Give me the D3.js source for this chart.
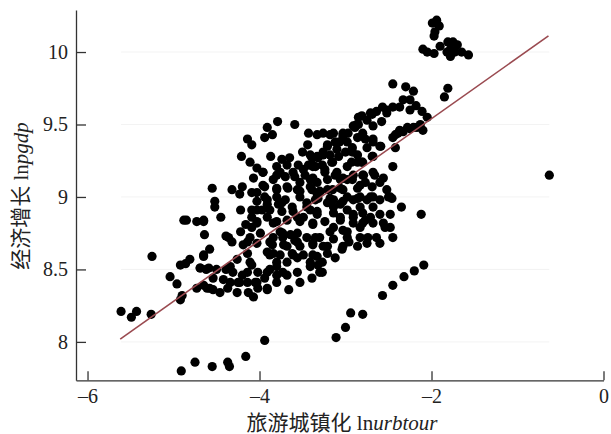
<!DOCTYPE html>
<html>
<head>
<meta charset="utf-8">
<script src="https://cdn.jsdelivr.net/npm/d3@7"></script>
<style>
  body { margin: 0; background: #fff; }
  svg text { font-family: "Liberation Serif", "Times New Roman", "DejaVu Serif", "Noto Sans CJK SC", serif; fill: #222; }
</style>
</head>
<body>
<svg id="chart" width="611" height="434"></svg>
<script>
const xTicks = [-6, -4, -2, 0];
const yTicks = [8, 8.5, 9, 9.5, 10];
const xDomain = [-6.134, 0];
const yDomain = [7.735, 10.29];

// fitted line lnpgdp = a + b * lnurbtour
const fit = { intercept: 10.38, slope: 0.42 };
const fitRange = [-5.62, -0.64];

// [lnurbtour, lnpgdp]
const points = [
  [-5.61,8.21],[-5.49,8.17],[-5.43,8.21],[-5.26,8.19],[-5.25,8.59],[-5.04,8.45],[-4.96,8.40],[-4.92,8.29],
  [-4.90,8.32],[-4.92,8.53],[-4.86,8.54],[-4.81,8.57],[-4.88,8.84],[-4.85,8.84],[-4.73,8.83],[-4.65,8.83],
  [-4.64,8.74],[-4.65,8.60],[-4.69,8.51],[-4.73,8.37],[-4.61,8.37],[-4.91,7.80],[-4.75,7.86],[-4.55,7.83],
  [-4.37,7.86],[-4.35,7.83],[-4.16,7.90],[-3.94,8.01],[-3.11,8.03],[-3.00,8.10],[-2.94,8.20],[-2.80,8.19],
  [-2.57,8.32],[-2.45,8.39],[-2.32,8.45],[-2.20,8.49],[-2.09,8.53],[-2.35,8.93],[-2.12,8.88],[-0.63,9.15],
  [-1.99,10.20],[-1.94,10.22],[-1.91,10.18],[-1.96,10.14],[-1.97,10.11],[-2.10,10.02],[-2.05,10.00],[-1.97,9.99],
  [-1.90,10.04],[-1.81,10.07],[-1.75,10.07],[-1.70,10.05],[-1.78,10.02],[-1.82,10.00],[-1.78,9.97],[-1.73,10.00],
  [-1.65,10.00],[-1.57,9.98],
  [-2.45,9.78],[-2.30,9.76],[-2.21,9.73],[-2.33,9.67],[-2.25,9.67],[-2.18,9.63],[-2.11,9.59],[-2.05,9.55],
  [-1.81,9.75],[-1.85,9.69],
  [-2.57,9.62],[-2.64,9.59],[-2.81,9.56],[-2.75,9.53],[-2.87,9.50],[-2.45,9.62],[-2.37,9.62],[-2.25,9.60],
  [-2.52,9.58],[-2.69,9.57],[-2.85,9.50],[-2.89,9.48],[-2.97,9.44],[-3.03,9.42],[-3.07,9.38],[-3.18,9.43],
  [-3.26,9.44],[-3.33,9.43],[-3.21,9.36],[-3.12,9.38],[-2.98,9.38],[-2.86,9.41],[-2.77,9.40],[-2.68,9.38],
  [-2.60,9.35],[-2.92,9.34],[-3.00,9.31],[-3.10,9.33],[-3.18,9.29],[-3.26,9.29],[-3.32,9.27],[-3.38,9.22],
  [-3.27,9.22],[-3.15,9.24],[-2.93,9.24],[-2.86,9.29],[-2.81,9.24],[-2.69,9.28],[-3.24,9.17],[-3.12,9.15],
  [-3.03,9.13],[-2.91,9.15],[-2.77,9.10],[-2.66,9.15],[-2.60,9.10],[-3.33,9.10],[-3.30,9.04],[-3.39,9.05],
  [-3.15,9.05],[-3.03,9.05],[-2.83,9.00],[-2.71,9.00],[-2.48,9.00],[-2.42,9.43],[-2.37,9.46],[-2.28,9.48],
  [-2.21,9.48],[-2.13,9.50],[-2.45,9.41],[-2.39,9.44],[-2.33,9.45],[-2.25,9.47],[-2.17,9.48],[-2.10,9.46],
  [-2.42,9.34],[-2.59,9.35],[-2.92,9.31],[-2.68,9.28],[-2.80,9.24],[-2.80,9.15],[-2.83,9.08],[-2.92,9.12],
  [-3.06,9.12],[-2.68,9.00],[-2.50,9.00],
  [-2.52,9.60],[-2.71,9.58],[-2.85,9.55],[-2.58,9.52],[-2.68,9.49],[-2.80,9.44],[-2.91,9.49],[-3.03,9.44],
  [-3.14,9.44],[-3.10,9.37],[-3.21,9.35],[-3.26,9.31],[-3.33,9.28],[-3.41,9.29],[-3.50,9.31],[-3.08,9.28],
  [-3.16,9.24],[-3.24,9.19],[-3.38,9.21],[-3.49,9.19],[-3.61,9.17],[-3.76,9.17],[-3.10,9.17],[-2.98,9.21],
  [-2.86,9.24],[-2.79,9.15],[-2.68,9.17],[-2.56,9.13],[-2.45,9.21],[-2.52,9.05],[-2.98,9.12],[-3.21,9.12],
  [-3.41,9.12],[-3.53,9.10],[-3.68,9.07],[-3.80,9.06],[-3.21,9.05],[-3.06,9.06],[-2.86,9.06],[-2.69,9.07],
  [-2.75,9.34],[-2.68,9.40],
  [-3.79,9.52],[-3.59,9.50],[-3.91,9.48],[-3.85,9.43],[-3.94,9.41],[-4.14,9.40],[-4.09,9.36],[-3.43,9.44],
  [-3.44,9.36],[-4.21,9.28],[-3.87,9.28],[-4.11,9.24],[-4.03,9.20],[-3.96,9.17],[-3.74,9.26],[-3.65,9.27],
  [-3.39,9.27],[-3.80,9.21],[-3.68,9.22],[-3.55,9.22],[-3.43,9.22],[-3.35,9.21],[-3.80,9.15],[-3.59,9.14],
  [-3.47,9.15],[-3.38,9.13],[-4.07,9.13],[-4.55,9.06],[-4.32,9.05],[-4.20,9.07],[-4.23,9.02],[-4.09,9.03],
  [-3.94,9.07],[-3.67,9.06],[-3.53,9.04],[-3.41,9.07],[-3.33,9.02],[-3.94,9.00],[-3.96,9.08],[-3.84,9.12],
  [-3.56,9.05],
  [-4.52,8.97],[-4.52,8.93],[-4.45,8.86],[-4.65,8.84],[-4.39,8.73],[-4.36,8.72],[-4.22,8.91],[-4.09,8.91],
  [-4.22,8.76],[-4.16,8.81],[-4.09,8.79],[-4.03,8.83],[-3.91,8.86],[-3.84,8.82],[-3.80,9.00],[-3.70,8.98],
  [-3.78,8.95],[-3.74,8.90],[-3.62,8.93],[-3.53,9.00],[-3.45,8.96],[-3.56,8.86],[-3.49,8.86],[-3.41,8.91],
  [-3.35,8.98],[-3.30,9.03],[-3.21,8.96],[-3.14,8.98],[-3.06,8.95],[-2.98,9.00],[-2.91,8.98],[-2.75,8.98],
  [-2.60,8.98],[-2.46,8.99],[-3.14,8.89],[-3.06,8.86],[-2.98,8.91],[-2.91,8.88],[-2.80,8.89],[-2.71,8.86],
  [-2.60,8.88],[-2.48,8.88],[-3.14,8.79],[-3.03,8.77],[-2.91,8.82],[-2.80,8.82],[-2.68,8.82],[-2.56,8.82],
  [-2.45,8.72],[-2.64,8.72],[-2.83,8.72],[-2.98,8.72],[-3.14,8.71],[-3.30,8.72],[-3.45,8.72],[-3.56,8.75],
  [-3.73,8.72],[-3.84,8.72],[-3.99,8.75],[-4.11,8.72],[-4.19,8.67],[-4.03,8.68],[-3.68,8.66],[-3.53,8.66],
  [-3.38,8.68],[-3.21,8.66],[-3.03,8.66],[-2.86,8.66],[-2.75,8.68],[-2.60,8.68],[-2.54,8.79],[-2.48,8.79],
  [-2.77,8.84],[-2.91,8.86],[-3.06,8.84],[-3.24,8.83],[-3.38,8.82],[-3.33,8.90],[-3.18,8.76],[-2.98,8.76],
  [-2.83,8.79],[-2.74,8.72],[-2.96,8.69],[-3.38,8.67],[-3.26,8.66],[-3.04,8.64],[-3.21,8.61],[-3.33,8.59],
  [-3.12,8.58],[-3.27,8.55],[-3.27,8.48],[-3.32,8.99],[-3.18,8.99],[-3.03,8.97],[-2.86,8.99],[-3.14,8.93],
  [-2.83,8.93],[-2.68,8.93],
  [-4.58,8.64],[-4.65,8.59],[-4.69,8.51],[-4.59,8.51],[-4.50,8.50],[-4.39,8.50],[-4.31,8.48],[-4.20,8.46],
  [-4.09,8.53],[-4.02,8.48],[-4.54,8.44],[-4.42,8.43],[-4.34,8.41],[-4.25,8.41],[-4.14,8.41],[-4.05,8.41],
  [-3.94,8.44],[-3.88,8.50],[-3.80,8.52],[-4.37,8.37],[-4.26,8.34],[-4.13,8.34],[-4.02,8.37],[-3.91,8.37],
  [-4.65,8.39],[-4.54,8.36],[-4.46,8.34],[-4.07,8.31],[-3.80,8.46],[-3.68,8.46],[-3.56,8.48],[-3.41,8.52],
  [-3.88,8.60],[-3.76,8.60],[-3.85,8.67],[-3.72,8.67],[-3.61,8.60],[-3.49,8.60],[-3.38,8.60],[-3.56,8.69],
  [-3.35,8.72],[-3.64,8.74],[-3.76,8.76],[-3.56,8.58],[-3.41,8.55],[-3.32,8.53],[-4.09,8.86],[-3.80,8.83],
  [-4.03,8.97],[-3.91,8.95],[-3.61,8.90],[-3.45,8.93],[-3.33,8.88],[-3.53,8.83],[-3.38,8.81],[-3.97,8.91],
  [-4.32,8.69],[-4.14,8.69],[-4.62,8.50],[-4.34,8.52],[-4.26,8.57],[-4.14,8.61],[-4.11,8.55],[-4.58,8.37],
  [-4.23,8.41],[-4.14,8.48],[-3.91,8.48],[-4.03,8.41],[-3.91,8.36],[-3.80,8.41],[-3.73,8.48],[-3.80,8.55],
  [-3.68,8.55],[-3.62,8.61],[-3.84,8.61],[-3.91,8.62],[-3.88,8.69],[-3.59,8.70],[-3.73,8.75],[-4.03,8.82],
  [-3.68,8.84],[-4.03,8.91],[-3.88,8.91],[-3.74,8.96],[-3.91,8.98],[-4.03,9.03],[-3.80,9.05],[-3.70,9.14],
  [-3.96,9.17],[-3.53,8.41],[-3.39,8.44],[-3.66,8.36],[-3.30,8.48]
];

const svg = d3.select("#chart");

const x = d3.scaleLinear().domain(xDomain).range([76, 603.5]);
const y = d3.scaleLinear().domain(yDomain).range([380.3, 10]);

// faint grid lines over the data span
const xExt = d3.extent(points, d => d[0]);
svg.append("g").selectAll("line").data(yTicks).join("line")
  .attr("x1", x(xExt[0])).attr("x2", x(xExt[1]))
  .attr("y1", d => y(d)).attr("y2", d => y(d))
  .attr("stroke", "#f3f3f3").attr("stroke-width", 1);

svg.append("g").selectAll("circle").data(points).join("circle")
  .attr("cx", d => x(d[0]))
  .attr("cy", d => y(d[1]))
  .attr("r", 4.6)
  .attr("fill", "#000");

svg.append("line")
  .attr("x1", x(fitRange[0])).attr("y1", y(fit.intercept + fit.slope * fitRange[0]))
  .attr("x2", x(fitRange[1])).attr("y2", y(fit.intercept + fit.slope * fitRange[1]))
  .attr("stroke", "#9a4a50").attr("stroke-width", 1.6);

const fmt = d => (d < 0 ? "\u2013" : "") + Math.abs(d);

const gx = svg.append("g").attr("transform", "translate(0,380.3)")
  .call(d3.axisBottom(x).tickValues(xTicks).tickFormat(fmt)
    .tickSizeInner(-9).tickSizeOuter(0).tickPadding(9));
const gy = svg.append("g").attr("transform", "translate(76,0)")
  .call(d3.axisLeft(y).tickValues(yTicks).tickFormat(fmt)
    .tickSizeInner(-10).tickSizeOuter(0).tickPadding(8));

[gx, gy].forEach(g => {
  g.attr("font-family", null).attr("font-size", null);
  g.select(".domain").attr("stroke", "#333").attr("stroke-width", 1.3);
  g.selectAll(".tick line").attr("stroke", "#333").attr("stroke-width", 1.3);
  g.selectAll(".tick text").style("font-size", "20px").attr("fill", "#222");
});

const xl = svg.append("text").attr("x", 342).attr("y", 430)
  .attr("text-anchor", "middle").style("font-size", "21px");
xl.append("tspan").text("旅游城镇化 ln");
xl.append("tspan").attr("font-style", "italic").text("urbtour");

const yl = svg.append("text")
  .attr("transform", "translate(28,196) rotate(-90)")
  .attr("text-anchor", "middle").style("font-size", "21px");
yl.append("tspan").text("经济增长 ln");
yl.append("tspan").attr("font-style", "italic").text("pgdp");
</script>
</body>
</html>
